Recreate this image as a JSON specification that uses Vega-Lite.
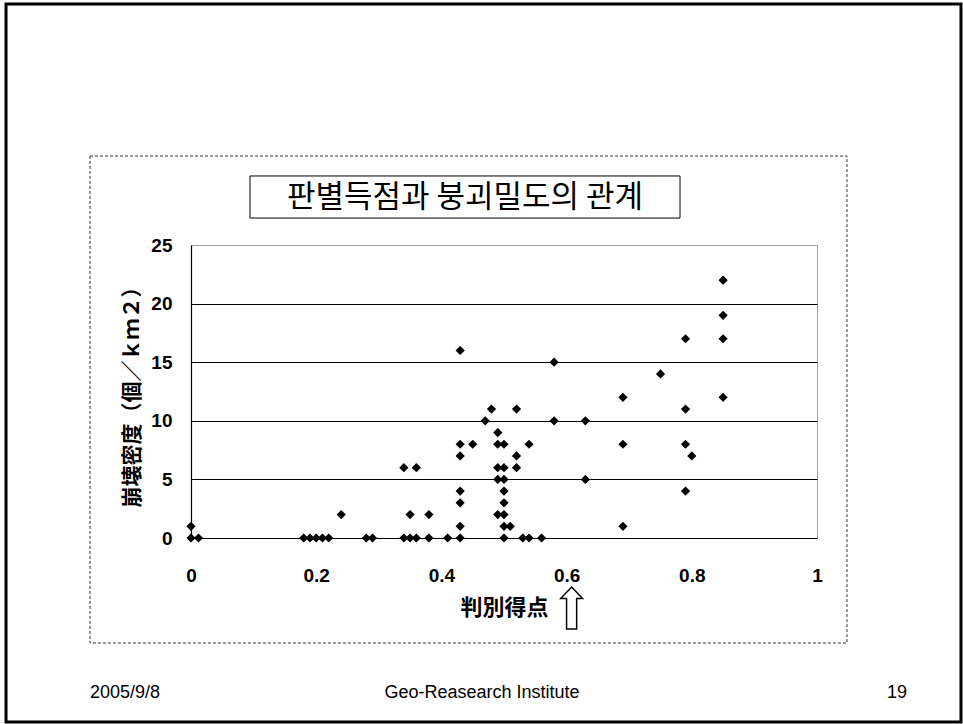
{
  "$schema": "https://vega.github.io/schema/vega-lite/v6.json",
  "width": 626,
  "height": 293,
  "autosize": {"type": "none"},
  "padding": {"left": 191, "top": 245, "right": 146, "bottom": 186},
  "background": "white",
  "config": {
    "view": {"stroke": "#444444", "strokeWidth": 1, "strokeDash": [1, 1]},
    "axis": {
      "domainColor": "black",
      "domainWidth": 1.2,
      "ticks": false,
      "tickSize": 0,
      "labelFlush": false,
      "labelColor": "black",
      "labelFont": "Liberation Sans",
      "labelFontWeight": "bold",
      "labelFontSize": 19,
      "titleColor": "black"
    }
  },
  "datasets": {
    "points": [
      {"score": 0.0, "density": 1}, {"score": 0.0, "density": 0}, {"score": 0.012, "density": 0},
      {"score": 0.18, "density": 0}, {"score": 0.19, "density": 0}, {"score": 0.2, "density": 0},
      {"score": 0.21, "density": 0}, {"score": 0.22, "density": 0},
      {"score": 0.24, "density": 2},
      {"score": 0.28, "density": 0}, {"score": 0.29, "density": 0},
      {"score": 0.34, "density": 0}, {"score": 0.35, "density": 0}, {"score": 0.36, "density": 0},
      {"score": 0.38, "density": 0}, {"score": 0.41, "density": 0}, {"score": 0.43, "density": 0},
      {"score": 0.34, "density": 6}, {"score": 0.36, "density": 6},
      {"score": 0.35, "density": 2}, {"score": 0.38, "density": 2},
      {"score": 0.43, "density": 16}, {"score": 0.43, "density": 8}, {"score": 0.43, "density": 7},
      {"score": 0.43, "density": 4}, {"score": 0.43, "density": 3}, {"score": 0.43, "density": 1},
      {"score": 0.45, "density": 8},
      {"score": 0.47, "density": 10}, {"score": 0.48, "density": 11},
      {"score": 0.49, "density": 9}, {"score": 0.49, "density": 8}, {"score": 0.49, "density": 6},
      {"score": 0.49, "density": 5}, {"score": 0.49, "density": 2},
      {"score": 0.5, "density": 8}, {"score": 0.5, "density": 6}, {"score": 0.5, "density": 5},
      {"score": 0.5, "density": 4}, {"score": 0.5, "density": 3}, {"score": 0.5, "density": 2},
      {"score": 0.5, "density": 1}, {"score": 0.5, "density": 0},
      {"score": 0.51, "density": 1},
      {"score": 0.52, "density": 11}, {"score": 0.52, "density": 7}, {"score": 0.52, "density": 6},
      {"score": 0.53, "density": 0}, {"score": 0.54, "density": 0}, {"score": 0.56, "density": 0},
      {"score": 0.54, "density": 8},
      {"score": 0.58, "density": 15}, {"score": 0.58, "density": 10},
      {"score": 0.63, "density": 10}, {"score": 0.63, "density": 5},
      {"score": 0.69, "density": 12}, {"score": 0.69, "density": 8}, {"score": 0.69, "density": 1},
      {"score": 0.75, "density": 14},
      {"score": 0.79, "density": 17}, {"score": 0.79, "density": 11}, {"score": 0.79, "density": 8},
      {"score": 0.79, "density": 4},
      {"score": 0.8, "density": 7},
      {"score": 0.85, "density": 22}, {"score": 0.85, "density": 19}, {"score": 0.85, "density": 17},
      {"score": 0.85, "density": 12}
    ]
  },
  "layer": [
    {
      "data": {"values": [{}]},
      "mark": {"type": "rect", "fill": "white", "fillOpacity": 0, "stroke": "black", "strokeWidth": 3},
      "encoding": {
        "x": {"datum": -0.2955, "type": "quantitative", "scale": {"domain": [0, 1], "nice": false}},
        "x2": {"datum": 1.23},
        "y": {"datum": 45.56, "type": "quantitative", "scale": {"domain": [0, 25], "nice": false}},
        "y2": {"datum": -15.7}
      }
    },
    {
      "data": {"values": [{}]},
      "mark": {"type": "rect", "fill": "white", "fillOpacity": 0, "stroke": "#333333", "strokeWidth": 1, "strokeDash": [3, 2]},
      "encoding": {
        "x": {"datum": -0.1613, "type": "quantitative", "scale": {"domain": [0, 1], "nice": false}},
        "x2": {"datum": 1.0479},
        "y": {"datum": 32.59, "type": "quantitative", "scale": {"domain": [0, 25], "nice": false}},
        "y2": {"datum": -8.96}
      }
    },
    {
      "data": {"values": [{}]},
      "mark": {"type": "rect", "fill": "white", "stroke": "black", "strokeWidth": 1},
      "encoding": {
        "x": {"datum": 0.0942, "type": "quantitative", "scale": {"domain": [0, 1], "nice": false}},
        "x2": {"datum": 0.7812},
        "y": {"datum": 30.89, "type": "quantitative", "scale": {"domain": [0, 25], "nice": false}},
        "y2": {"datum": 27.3}
      }
    },
    {
      "data": {"values": [{}]},
      "mark": {"type": "text", "text": "판별득점과 붕괴밀도의 관계", "font": "Noto Sans CJK KR", "fontSize": 31, "fontWeight": "normal", "color": "black", "align": "center", "baseline": "middle"},
      "encoding": {
        "x": {"datum": 0.4377, "type": "quantitative", "scale": {"domain": [0, 1], "nice": false}},
        "y": {"datum": 29.05, "type": "quantitative", "scale": {"domain": [0, 25], "nice": false}}
      }
    },
    {
      "data": {"name": "points"},
      "mark": {"type": "point", "shape": "diamond", "filled": true, "color": "black", "size": 85, "opacity": 1},
      "encoding": {
        "x": {
          "field": "score",
          "type": "quantitative",
          "scale": {"domain": [0, 1], "nice": false},
          "axis": {
            "title": "判別得点",
            "values": [0, 0.2, 0.4, 0.6, 0.8, 1],
            "format": "~g",
            "grid": false,
            "labelPadding": 28,
            "titlePadding": 12,
            "titleFont": "Noto Sans CJK JP",
            "titleFontSize": 22,
            "titleFontWeight": "bold"
          }
        },
        "y": {
          "field": "density",
          "type": "quantitative",
          "scale": {"domain": [0, 25], "nice": false},
          "axis": {
            "title": "崩壊密度（個／ｋｍ２）",
            "values": [0, 5, 10, 15, 20, 25],
            "grid": true,
            "gridColor": "black",
            "gridWidth": 1,
            "gridOpacity": {"condition": {"test": "datum.value === 0 || datum.value === 25", "value": 0}, "value": 1},
            "labelPadding": 19,
            "titlePadding": 8,
            "titleFont": "Noto Sans CJK JP",
            "titleFontSize": 21,
            "titleFontWeight": "bold"
          }
        }
      }
    },
    {
      "data": {"values": [{}]},
      "mark": {
        "type": "point",
        "shape": "M0,-1 L0.52,-0.45 L0.24,-0.45 L0.24,1 L-0.24,1 L-0.24,-0.45 L-0.52,-0.45 Z",
        "filled": true,
        "fill": "white",
        "stroke": "black",
        "strokeWidth": 1.5,
        "size": 1764,
        "opacity": 1
      },
      "encoding": {
        "x": {"datum": 0.608, "type": "quantitative", "scale": {"domain": [0, 1], "nice": false}},
        "y": {"datum": -5.97, "type": "quantitative", "scale": {"domain": [0, 25], "nice": false}}
      }
    },
    {
      "data": {"values": [{}]},
      "mark": {"type": "text", "text": "2005/9/8", "font": "Liberation Sans", "fontSize": 18, "color": "black", "align": "center", "baseline": "middle"},
      "encoding": {
        "x": {"datum": -0.1054, "type": "quantitative", "scale": {"domain": [0, 1], "nice": false}},
        "y": {"datum": -13.2, "type": "quantitative", "scale": {"domain": [0, 25], "nice": false}}
      }
    },
    {
      "data": {"values": [{}]},
      "mark": {"type": "text", "text": "Geo-Reasearch Institute", "font": "Liberation Sans", "fontSize": 18, "color": "black", "align": "center", "baseline": "middle"},
      "encoding": {
        "x": {"datum": 0.4649, "type": "quantitative", "scale": {"domain": [0, 1], "nice": false}},
        "y": {"datum": -13.2, "type": "quantitative", "scale": {"domain": [0, 25], "nice": false}}
      }
    },
    {
      "data": {"values": [{}]},
      "mark": {"type": "text", "text": "19", "font": "Liberation Sans", "fontSize": 18, "color": "black", "align": "center", "baseline": "middle"},
      "encoding": {
        "x": {"datum": 1.1278, "type": "quantitative", "scale": {"domain": [0, 1], "nice": false}},
        "y": {"datum": -13.2, "type": "quantitative", "scale": {"domain": [0, 25], "nice": false}}
      }
    }
  ]
}
